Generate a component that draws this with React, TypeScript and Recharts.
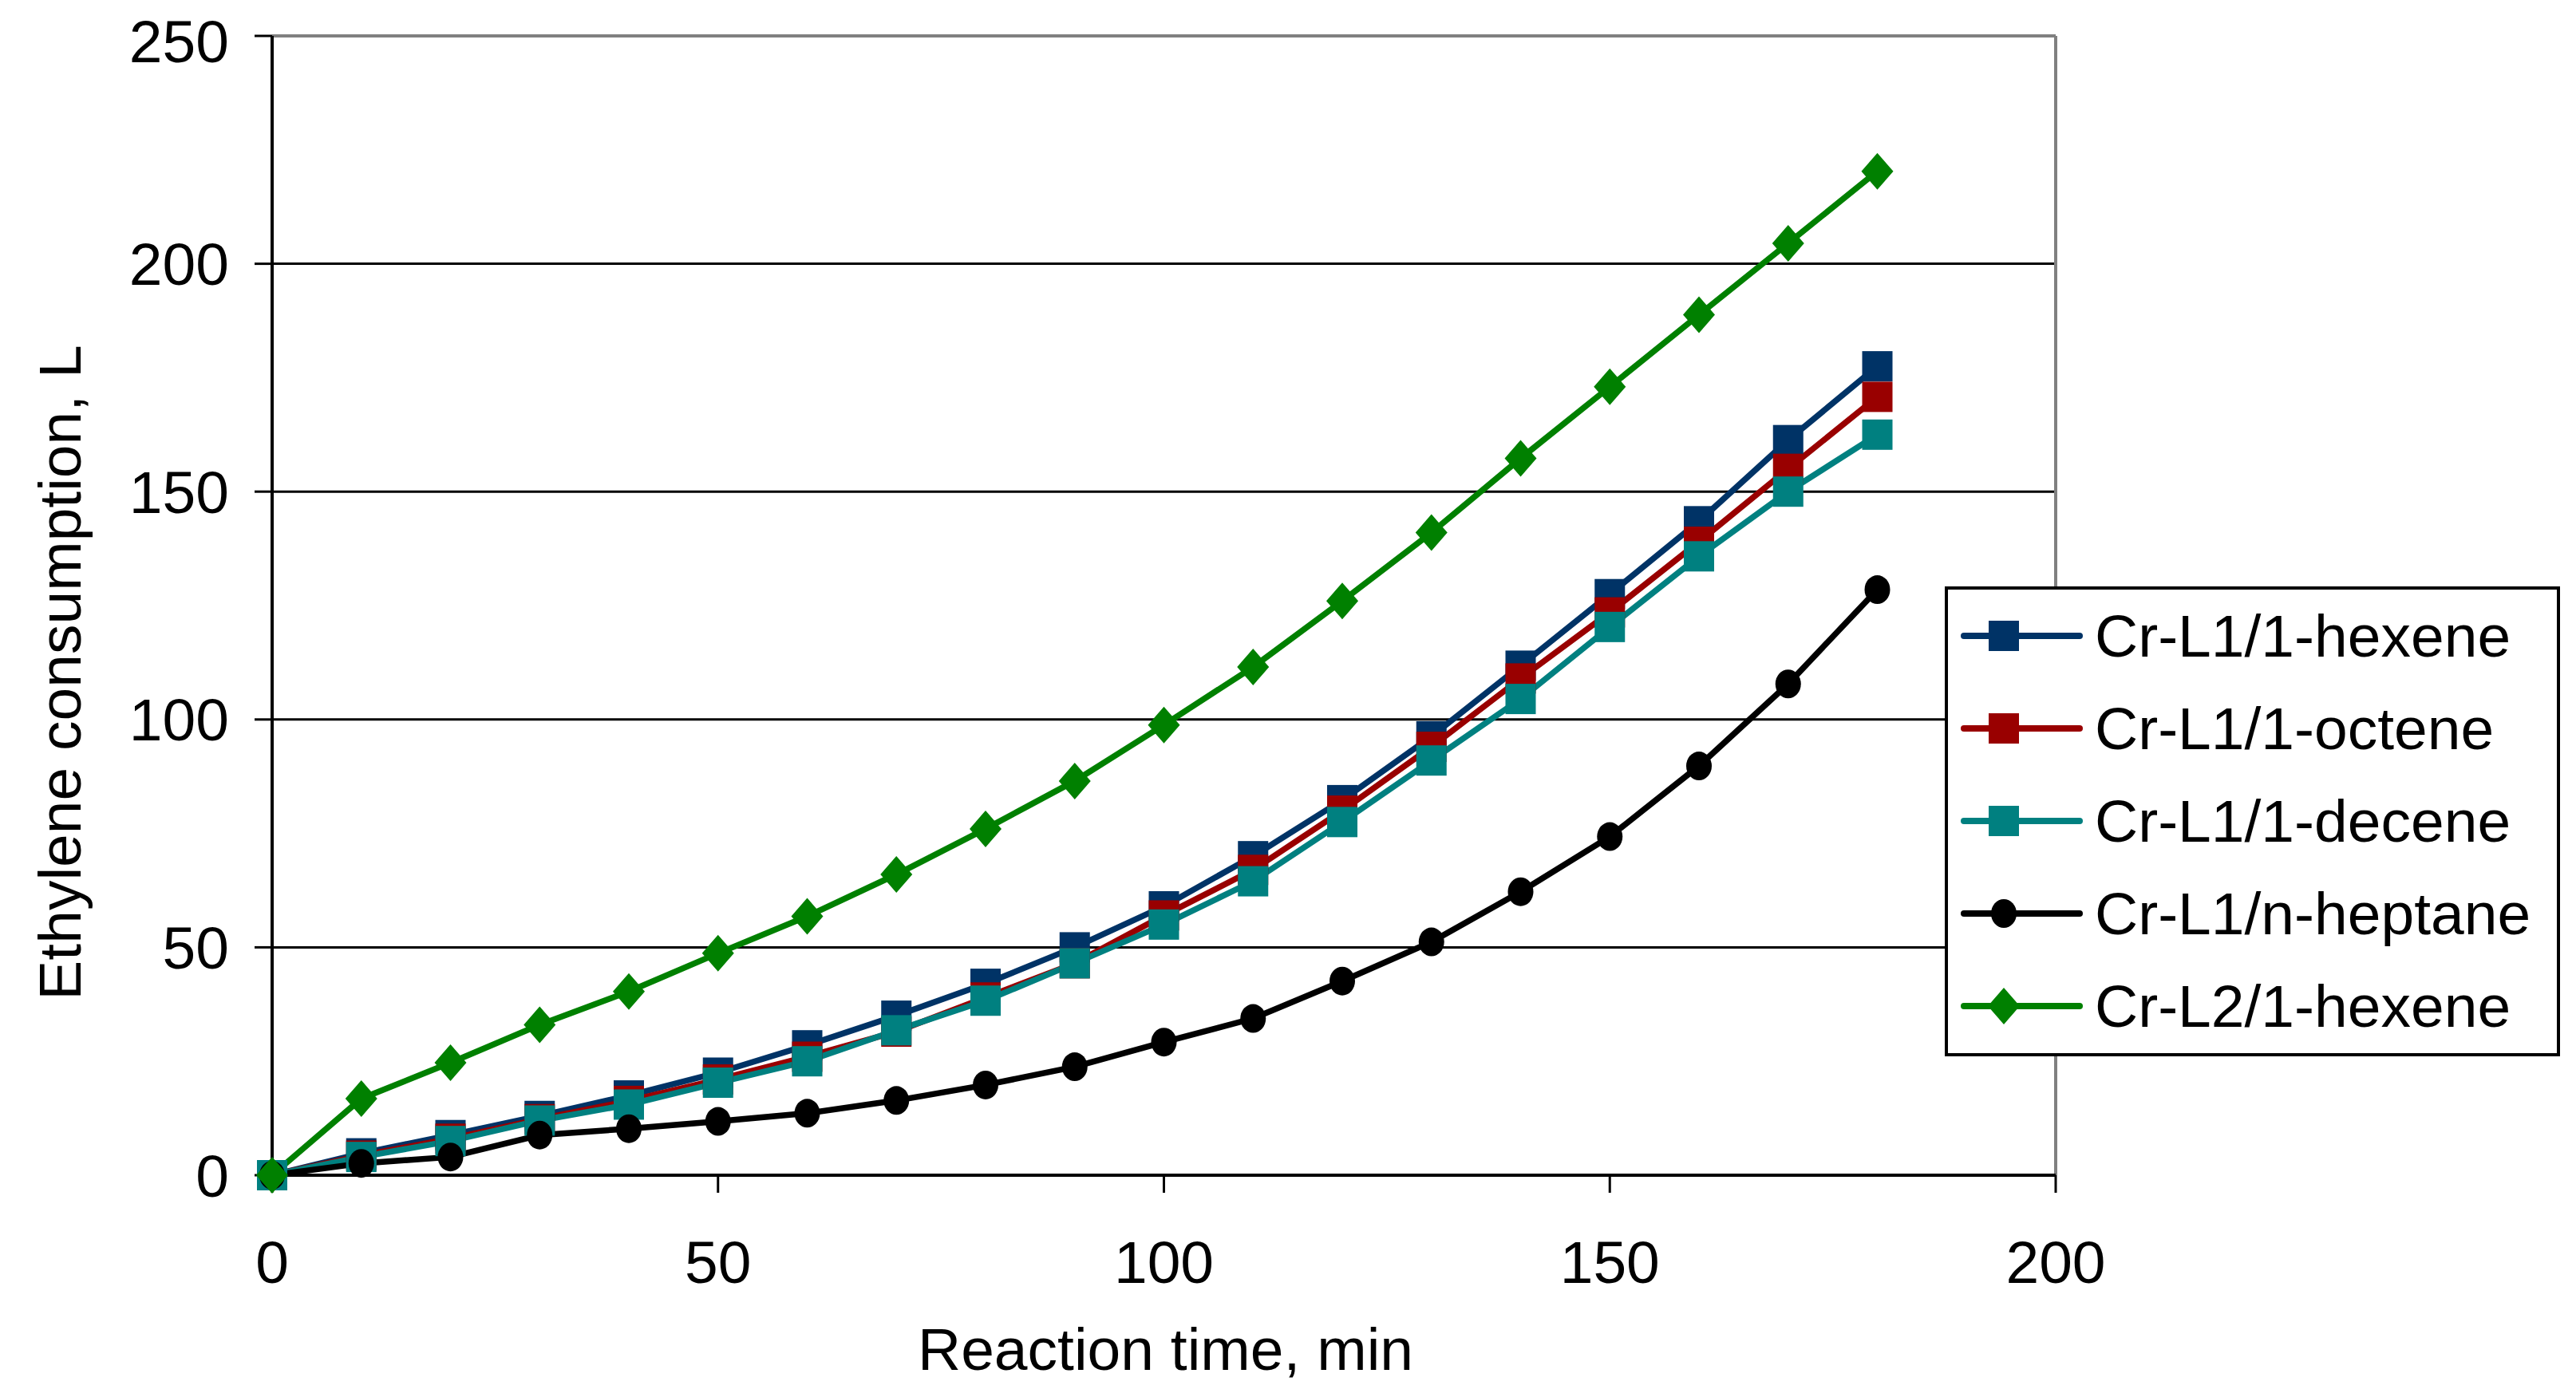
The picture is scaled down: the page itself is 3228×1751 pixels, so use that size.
import React from "react";
import {
  LineChart,
  Line,
  XAxis,
  YAxis,
  CartesianGrid,
  ReferenceLine,
  Legend,
  Label,
} from "recharts";

// reaction time, min
const times = [0, 10, 20, 30, 40, 50, 60, 70, 80, 90, 100, 110, 120, 130, 140, 150, 160, 170, 180];

// ethylene consumption, L
const l1Hexene = [0, 4.8, 8.8, 13, 17.5, 22.5, 28.5, 35, 42, 50, 59, 70, 82.3, 96.3, 111.8, 127.5, 143.5, 161.3, 177.5];
const l1Octene = [0, 4.3, 8, 12.3, 16.3, 21, 26, 31.5, 39, 46.5, 57, 67, 80, 94, 109, 123.5, 139, 155, 170.8];
const l1Decene = [0, 4, 7.5, 12, 15.5, 20.3, 25, 31.8, 38.3, 46.5, 55, 64.5, 77.5, 91, 104.5, 120.3, 135.8, 150, 162.5];
const l1Heptane = [0, 2.6, 4, 8.8, 10.2, 11.8, 13.6, 16.4, 19.8, 23.8, 29.2, 34.4, 42.6, 51.2, 62.2, 74.3, 89.8, 107.8, 128.5];
const l2Hexene = [0, 16.8, 24.7, 33, 40.3, 48.7, 56.8, 66, 76, 86.5, 98.8, 111.5, 126, 141, 157.3, 173, 188.8, 204.5, 220.3];

const xTicks = [0, 50, 100, 150, 200];
const yTicks = [0, 50, 100, 150, 200, 250];

const series = [
  { key: "hex", name: "Cr-L1/1-hexene", color: "#003366", shape: "square", values: l1Hexene },
  { key: "oct", name: "Cr-L1/1-octene", color: "#990000", shape: "square", values: l1Octene },
  { key: "dec", name: "Cr-L1/1-decene", color: "#008080", shape: "square", values: l1Decene },
  { key: "hep", name: "Cr-L1/n-heptane", color: "#000000", shape: "circle", values: l1Heptane },
  { key: "l2", name: "Cr-L2/1-hexene", color: "#008000", shape: "diamond", values: l2Hexene },
];

const data = times.map((t, i) => {
  const row: Record<string, number> = { t };
  series.forEach((s) => (row[s.key] = s.values[i]));
  return row;
});

const FONT = "'Liberation Sans', Arial, sans-serif";

function Marker({ shape, color, cx, cy }: { shape: string; color: string; cx: number; cy: number }) {
  if (shape === "square") {
    return <rect x={cx - 19} y={cy - 19} width={38} height={38} fill={color} />;
  }
  if (shape === "diamond") {
    return (
      <polygon
        points={`${cx},${cy - 23} ${cx + 20},${cy} ${cx},${cy + 23} ${cx - 20},${cy}`}
        fill={color}
      />
    );
  }
  return <ellipse cx={cx} cy={cy} rx={16} ry={18} fill={color} />;
}

function makeDot(shape: string, color: string) {
  return (props: any) => {
    const { cx, cy, index } = props;
    if (cx == null || cy == null) return <g key={index} />;
    return (
      <g key={index}>
        <Marker shape={shape} color={color} cx={cx} cy={cy} />
      </g>
    );
  };
}

function LegendBox() {
  return (
    <div
      style={{
        width: 771,
        height: 589,
        boxSizing: "border-box",
        border: "4px solid #000",
        background: "#fff",
        paddingTop: 0,
        marginTop: -4,
        fontFamily: FONT,
      }}
    >
      {series.map((s) => (
        <div key={s.key} style={{ height: 116, display: "flex", alignItems: "center" }}>
          <svg width={184} height={50} style={{ flex: "none" }}>
            <line x1={20} x2={165} y1={25} y2={25} stroke={s.color} strokeWidth={8} strokeLinecap="round" />
            <Marker shape={s.shape} color={s.color} cx={70} cy={25} />
          </svg>
          <span style={{ fontSize: 75, color: "#000", lineHeight: 1, whiteSpace: "nowrap" }}>{s.name}</span>
        </div>
      ))}
    </div>
  );
}

export default function App() {
  return (
    <div style={{ width: 3212, height: 1735, background: "#fff" }}>
      <LineChart
        width={3212}
        height={1735}
        data={data}
        margin={{ top: 37, right: 644, left: 0, bottom: 0 }}
      >
        <CartesianGrid
          vertical={false}
          horizontalValues={[50, 100, 150, 200]}
          stroke="#000"
          strokeWidth={3}
        />
        <ReferenceLine y={250} stroke="#808080" strokeWidth={4} />
        <ReferenceLine x={200} stroke="#808080" strokeWidth={4} />
        <XAxis
          dataKey="t"
          type="number"
          domain={[0, 200]}
          ticks={xTicks}
          height={270}
          tickSize={22}
          tickMargin={60}
          axisLine={{ stroke: "#000", strokeWidth: 4 }}
          tickLine={{ stroke: "#000", strokeWidth: 3 }}
          tick={{ fontSize: 75, fill: "#000", fontFamily: FONT }}
        >
          <Label
            content={(props: any) => {
              const vb = props.viewBox || { x: 333, y: 1465, width: 2235, height: 270 };
              const x = vb.x + vb.width / 2 + 2;
              return (
                <text x={x} y={1709} textAnchor="middle" fontSize={75} fill="#000" fontFamily={FONT}>
                  Reaction time, min
                </text>
              );
            }}
          />
        </XAxis>
        <YAxis
          type="number"
          domain={[0, 250]}
          ticks={yTicks}
          width={333}
          tickSize={22}
          tickMargin={32}
          axisLine={{ stroke: "#000", strokeWidth: 4 }}
          tickLine={{ stroke: "#000", strokeWidth: 3 }}
          tick={{ fontSize: 75, fill: "#000", fontFamily: FONT }}
        >
          <Label
            content={() => (
              <text
                x={93}
                y={835}
                transform="rotate(-90 93 835)"
                textAnchor="middle"
                fontSize={75}
                fill="#000"
                fontFamily={FONT}
              >
                Ethylene consumption, L
              </text>
            )}
          />
        </YAxis>
        {series.map((s) => (
          <Line
            key={s.key}
            dataKey={s.key}
            name={s.name}
            type="linear"
            stroke={s.color}
            strokeWidth={7.5}
            dot={makeDot(s.shape, s.color)}
            activeDot={false}
            isAnimationActive={false}
          />
        ))}
        <Legend
          layout="vertical"
          align="center"
          verticalAlign="middle"
          content={() => <LegendBox />}
          wrapperStyle={{ left: 2429, top: 731, width: 771, height: 589 }}
        />
      </LineChart>
    </div>
  );
}
